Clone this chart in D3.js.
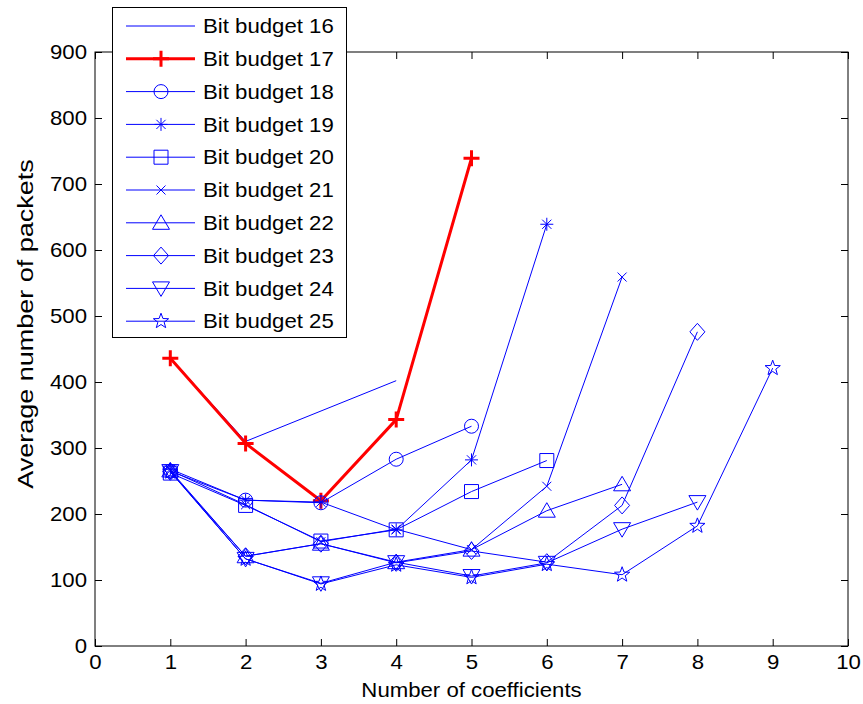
<!DOCTYPE html>
<html>
<head>
<meta charset="utf-8">
<script src="https://cdn.jsdelivr.net/npm/d3@7"></script>
<style>
  html, body { margin: 0; padding: 0; background: #fff; }
  svg { display: block; }
  text { font-family: "Liberation Sans", Arial, Helvetica, sans-serif; fill: #000; }
</style>
</head>
<body>
<svg id="chart" width="863" height="704"></svg>
<script>
// Average number of packets versus number of coefficients, per bit budget
const coefficients = [1, 2, 3, 4, 5, 6, 7, 8, 9];
const budget16X = [1, 2, 4];
const budget16 = [437, 310, 402];
const budget17 = [436, 307, 220, 343, 739];
const budget18 = [265, 221, 217, 283, 333];
const budget19 = [268, 221, 218, 176, 282, 639];
const budget20 = [262, 213, 159, 176, 234, 281];
const budget21 = [266, 214, 158, 177, 146, 242, 559];
const budget22 = [266, 136, 155, 127, 146, 205, 245];
const budget23 = [264, 136, 155, 126, 144, 127, 213, 476];
const budget24 = [265, 132, 95, 127, 106, 126, 177, 218];
const budget25 = [264, 132, 94, 123, 104, 124, 108, 182, 421];
const seriesNames = ["Bit budget 16", "Bit budget 17", "Bit budget 18", "Bit budget 19",
  "Bit budget 20", "Bit budget 21", "Bit budget 22", "Bit budget 23", "Bit budget 24", "Bit budget 25"];
const xTicks = [0, 1, 2, 3, 4, 5, 6, 7, 8, 9, 10];
const yTicks = [0, 100, 200, 300, 400, 500, 600, 700, 800, 900];

const BLUE = "#0000ff", RED = "#ff0000";
const SX = 1.11;           // horizontal glyph stretch
const FONT = 20;

function pairs(xs, ys) { return ys.map((v, i) => [xs[i], v]); }

const series = [
  { name: seriesNames[0], pts: pairs(budget16X, budget16), marker: null, color: BLUE, width: 1 },
  { name: seriesNames[1], pts: pairs(coefficients, budget17), marker: "plus", color: RED, width: 3 },
  { name: seriesNames[2], pts: pairs(coefficients, budget18), marker: "circle", color: BLUE, width: 1 },
  { name: seriesNames[3], pts: pairs(coefficients, budget19), marker: "asterisk", color: BLUE, width: 1 },
  { name: seriesNames[4], pts: pairs(coefficients, budget20), marker: "square", color: BLUE, width: 1 },
  { name: seriesNames[5], pts: pairs(coefficients, budget21), marker: "cross", color: BLUE, width: 1 },
  { name: seriesNames[6], pts: pairs(coefficients, budget22), marker: "triUp", color: BLUE, width: 1 },
  { name: seriesNames[7], pts: pairs(coefficients, budget23), marker: "diamond", color: BLUE, width: 1 },
  { name: seriesNames[8], pts: pairs(coefficients, budget24), marker: "triDown", color: BLUE, width: 1 },
  { name: seriesNames[9], pts: pairs(coefficients, budget25), marker: "star", color: BLUE, width: 1 }
];

// Marker outlines, centred on the origin
function markerPath(type) {
  switch (type) {
    case "plus": return "M-8,0H8M0,-8V8";
    case "circle": return "M7,0A7,7 0 1,1 -7,0A7,7 0 1,1 7,0Z";
    case "asterisk": {
      const a = 6.5, d = 4.6;
      return `M${-a},0H${a}M0,${-a}V${a}M${-d},${-d}L${d},${d}M${-d},${d}L${d},${-d}`;
    }
    case "square": return "M-7,-7H7V7H-7Z";
    case "cross": return "M-4.5,-4.5L4.5,4.5M-4.5,4.5L4.5,-4.5";
    case "triUp": return "M0,-8L8.5,6.5H-8.5Z";
    case "triDown": return "M0,8L8.5,-6.5H-8.5Z";
    case "diamond": return "M0,-8.5L7.5,0L0,8.5L-7.5,0Z";
    case "star": {
      const R = 8, r = 3.3;
      let p = "";
      for (let k = 0; k < 10; k++) {
        const ang = -Math.PI / 2 + k * Math.PI / 5;
        const rad = k % 2 === 0 ? R : r;
        p += (k === 0 ? "M" : "L") + (rad * Math.cos(ang)).toFixed(2) + "," + (rad * Math.sin(ang)).toFixed(2);
      }
      return p + "Z";
    }
  }
  return "";
}

const svg = d3.select("#chart");
const x = d3.scaleLinear().domain([0, 10]).range([95, 848]);
const y = d3.scaleLinear().domain([0, 900]).range([646, 52]);

// Plot background
svg.append("rect").attr("x", 95).attr("y", 52).attr("width", 753).attr("height", 594).attr("fill", "#fff");

// Axes with inward ticks on all four sides
const TICK = 7;
const gx = svg.append("g").attr("transform", `translate(0,${y(0)})`)
  .call(d3.axisBottom(x).tickValues(xTicks).tickFormat(d3.format("d")).tickSizeInner(-TICK).tickSizeOuter(0).tickPadding(9));
const gy = svg.append("g").attr("transform", `translate(${x(0)},0)`)
  .call(d3.axisLeft(y).tickValues(yTicks).tickFormat(d3.format("d")).tickSizeInner(-TICK).tickSizeOuter(0).tickPadding(8));
const gt = svg.append("g").attr("transform", `translate(0,${y(900)})`)
  .call(d3.axisTop(x).tickValues(xTicks).tickFormat("").tickSizeInner(-TICK).tickSizeOuter(0));
const gr = svg.append("g").attr("transform", `translate(${x(10)},0)`)
  .call(d3.axisRight(y).tickValues(yTicks).tickFormat("").tickSizeInner(-TICK).tickSizeOuter(0));

[gx, gy, gt, gr].forEach(g => {
  g.select(".domain").remove();
  g.selectAll(".tick line").attr("stroke", "#000").attr("stroke-width", 1);
  g.selectAll("text").attr("font-size", FONT).attr("font-family", "Liberation Sans, Arial, sans-serif").attr("fill", "#000");
});
gx.selectAll(".tick text").attr("transform", `scale(${SX},1)`);
gy.selectAll(".tick text").each(function () {
  const t = d3.select(this);
  t.attr("x", +t.attr("x") / SX).attr("transform", `scale(${SX},1)`);
});

// Frame
svg.append("rect").attr("x", x(0)).attr("y", y(900))
  .attr("width", x(10) - x(0)).attr("height", y(0) - y(900))
  .attr("fill", "none").attr("stroke", "#000").attr("stroke-width", 1);

// Series lines and markers
const line = d3.line().x(d => x(d[0])).y(d => y(d[1]));
const plot = svg.append("g");
series.forEach(s => {
  const g = plot.append("g");
  g.append("path").attr("d", line(s.pts)).attr("fill", "none")
    .attr("stroke", s.color).attr("stroke-width", s.width).attr("stroke-linejoin", "round");
  if (s.marker) {
    g.selectAll("path.mk").data(s.pts).join("path").attr("class", "mk")
      .attr("transform", d => `translate(${x(d[0])},${y(d[1])})`)
      .attr("d", markerPath(s.marker)).attr("fill", "none")
      .attr("stroke", s.color).attr("stroke-width", s.width);
  }
});

// Axis titles
svg.append("g").attr("transform", `translate(${(x(0) + x(10)) / 2},697) scale(${SX},1)`)
  .append("text").attr("text-anchor", "middle").attr("font-size", FONT).text("Number of coefficients");
svg.append("g").attr("transform", `translate(33,324) rotate(-90) scale(1,0.8)`)
  .append("text").attr("text-anchor", "middle").attr("font-size", 27).text("Average number of packets");

// Legend
const legend = svg.append("g");
legend.append("rect").attr("x", 112.5).attr("y", 7.5).attr("width", 234).attr("height", 330)
  .attr("fill", "#fff").attr("stroke", "#000").attr("stroke-width", 1);
series.forEach((s, i) => {
  const cy = 26 + i * 32.8;
  const row = legend.append("g").attr("transform", `translate(0,${cy})`);
  row.append("line").attr("x1", 126).attr("x2", 195).attr("y1", 0).attr("y2", 0)
    .attr("stroke", s.color).attr("stroke-width", s.width);
  if (s.marker) {
    row.append("path").attr("transform", "translate(161,0)").attr("d", markerPath(s.marker))
      .attr("fill", "none").attr("stroke", s.color).attr("stroke-width", s.width);
  }
  row.append("g").attr("transform", `translate(203,0) scale(${SX},1)`)
    .append("text").attr("font-size", FONT).attr("dy", "0.36em").text(s.name);
});
</script>
</body>
</html>
